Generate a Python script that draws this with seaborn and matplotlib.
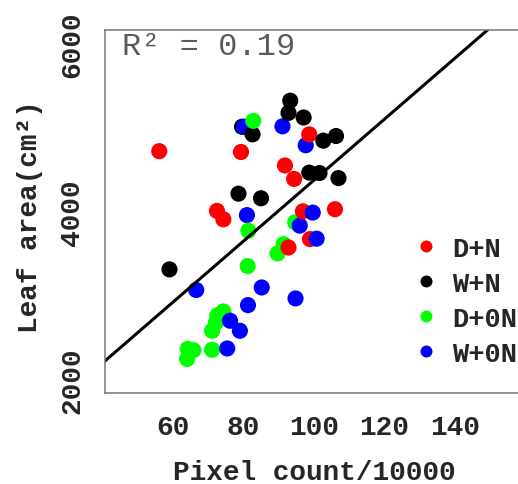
import numpy as np
import pandas as pd
import matplotlib
matplotlib.use("Agg")
import matplotlib.pyplot as plt
import seaborn as sns

# values
dn_x = [56.1, 79.3, 98.7, 91.8, 94.4, 72.5, 74.3, 96.9, 106.0, 98.9, 92.8]
dn_y = [4720, 4710, 4920, 4550, 4390, 4010, 3910, 4005, 4030, 3675, 3575]

wn_x = [59.0, 78.6, 85.0, 79.6, 82.6, 93.3, 92.8, 97.1, 102.7, 106.3, 98.7, 101.6, 107.0]
wn_y = [3315, 4215, 4160, 5010, 4920, 5320, 5175, 5120, 4845, 4900, 4465, 4460, 4400]

d0n_x = [82.8, 81.4, 81.2, 94.7, 91.4, 89.7, 74.3, 72.6, 72.2, 71.1, 71.1, 64.2, 65.8, 64.0]
d0n_y = [5080, 3775, 3355, 3875, 3615, 3505, 2815, 2770, 2685, 2585, 2360, 2370, 2355, 2250]

w0n_x = [80.2, 91.1, 97.7, 81.0, 99.7, 96.0, 100.8, 66.6, 85.2, 94.8, 81.3, 76.2, 79.0, 75.4]
w0n_y = [5010, 5015, 4790, 3960, 3990, 3835, 3680, 3070, 3100, 2970, 2890, 2705, 2585, 2375]

groups = ["D+N", "W+N", "D+0N", "W+0N"]
colors = ["#ff0000", "#000000", "#00ff00", "#0000ff"]

fit_intercept = 754.0
fit_slope = 36.2
r2_label = "R\u00b2 = 0.19"

x_ticks = [60, 80, 100, 120, 140]
y_ticks = [2000, 3000, 4000, 5000, 6000]
y_ticklabels = ["2000", "", "4000", "", "6000"]

frames = []
for g, xs, ys in zip(groups, [dn_x, wn_x, d0n_x, w0n_x], [dn_y, wn_y, d0n_y, w0n_y]):
    frames.append(pd.DataFrame({"pixels": xs, "area": ys, "treatment": g}))
# later (larger x) points sit on top, as in the original
df = pd.concat(frames, ignore_index=True).sort_values("pixels")

sns.set_theme(style="white")
plt.rcParams["font.family"] = ["Liberation Mono", "DejaVu Sans"]
plt.rcParams["font.weight"] = "bold"

fig = plt.figure(figsize=(5.18, 4.85), dpi=100)
ax = fig.add_axes([0.2021, 0.1866, 0.8075, 0.7495])

sns.scatterplot(data=df, x="pixels", y="area", hue="treatment", hue_order=groups,
                palette=colors, s=135, linewidth=0, alpha=1, ax=ax, legend=False)
ax.axline((0, fit_intercept), slope=fit_slope, color="black", lw=2.2)

ax.set_xlim(40.6, 159.4)
ax.set_ylim(1840, 6160)
ax.set_xticks(x_ticks)
ax.set_xticklabels([str(t) for t in x_ticks], fontsize=20, fontweight="bold")
ax.set_yticks(y_ticks)
ax.set_yticklabels(y_ticklabels, fontsize=20, fontweight="bold", rotation=90, va="center")
ax.tick_params(axis="both", direction="out", length=7.9, width=1.1, color="#666666")
ax.tick_params(axis="x", pad=7)
ax.tick_params(axis="y", pad=6)
for sp in ax.spines.values():
    sp.set_visible(True)
    sp.set_color("#777777")
    sp.set_linewidth(1.1)

ax.set_xlabel("Pixel count/10000", fontsize=20, fontweight="bold", va="baseline")
ax.xaxis.set_label_coords(0.5, -0.235)
ax.set_ylabel("Leaf area(cm\u00b2)", fontsize=20, fontweight="bold", va="baseline")
ax.yaxis.set_label_coords(-0.1626, 0.49)

ax.text(0.042, 0.934, r2_label, transform=ax.transAxes, fontsize=23,
        fontweight="normal", color="#5a5a5a", ha="left", va="baseline")

handles = [plt.Line2D([], [], marker="o", linestyle="", markersize=8.6,
                      markerfacecolor=c, markeredgewidth=0) for c in colors]
fig.legend(handles, groups, loc="center left", bbox_to_anchor=(412.5 / 518, 0.377),
           frameon=False, handlelength=1.0, handletextpad=0.45,
           borderpad=0, borderaxespad=0, labelspacing=0.33,
           prop={"weight": "bold", "size": 19.5})

fig.savefig("out.png", dpi=100)
